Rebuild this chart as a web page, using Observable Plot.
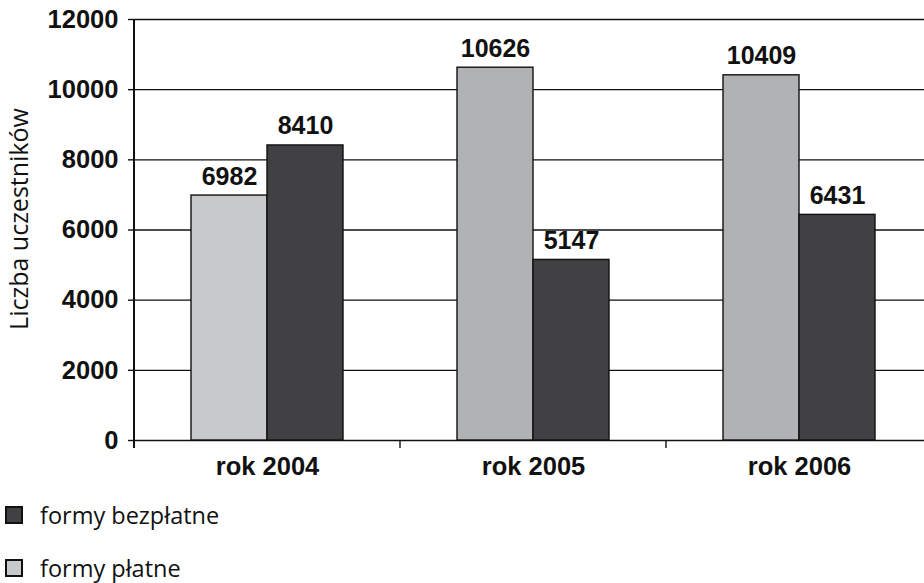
<!DOCTYPE html>
<html>
<head>
<meta charset="utf-8">
<script src="https://cdn.jsdelivr.net/npm/d3@7"></script>
<script src="https://cdn.jsdelivr.net/npm/@observablehq/plot@0.6"></script>
<style>
  html, body { margin: 0; padding: 0; background: #fff; overflow: hidden; }
  #chart { position: relative; width: 924px; height: 583px; }
  #chart svg { position: absolute; left: 0; top: 0; overflow: visible; }
  .legend { position: absolute; left: 0; top: 490px; font-family: "Open Sans", "Noto Sans", sans-serif; font-size: 23.5px; color: #111; }
  .item { position: absolute; left: 5px; white-space: nowrap; display: flex; align-items: center; }
  .sw { width: 14px; height: 14px; border: 2px solid #111; margin-right: 17px; }
  .ylab { position: absolute; font-family: "Open Sans", "Noto Sans", sans-serif; font-size: 25px; color: #111; transform: rotate(-90deg); transform-origin: center; white-space: nowrap; }
</style>
</head>
<body>
<div id="chart"></div>
<script>
const years = ["rok 2004", "rok 2005", "rok 2006"];
const seriesNames = ["formy płatne", "formy bezpłatne"];
const platne = [6982, 10626, 10409];
const bezplatne = [8410, 5147, 6431];
const yTicks = [0, 2000, 4000, 6000, 8000, 10000, 12000];
const yLabel = "Liczba uczestników";

const data = [];
years.forEach((y, i) => {
  data.push({year: y, series: seriesNames[0], value: platne[i]});
  data.push({year: y, series: seriesNames[1], value: bezplatne[i]});
});

const fillOf = d => d.series === seriesNames[1] ? "#414143" : (d.year === years[0] ? "#c8c9cb" : "#b1b2b4");

const plot = Plot.plot({
  width: 924,
  height: 490,
  marginLeft: 134,
  marginRight: -8,
  marginTop: 19,
  marginBottom: 50,
  style: {fontFamily: "'Liberation Sans', Arial, sans-serif", background: "transparent", overflow: "visible"},
  fx: {domain: years, paddingInner: 0, paddingOuter: 0, axis: null, label: null},
  x: {domain: seriesNames, paddingInner: 0, paddingOuter: 0.75, axis: null, label: null},
  y: {domain: [0, 12000], ticks: yTicks, label: null},
  marks: [
    Plot.ruleY(yTicks, {stroke: "#111", strokeWidth: 1.4}),
    Plot.barY(data, {fx: "year", x: "series", y: "value", fill: fillOf, stroke: "#111", strokeWidth: 1.4}),
    Plot.text(data, {fx: "year", x: "series", y: "value", text: d => String(d.value), dy: -19, fontSize: 25, fontWeight: "bold", fill: "#111"}),
    Plot.text(years, {fx: d => d, text: d => d, frameAnchor: "bottom", dy: 34, fontSize: 25.5, fontWeight: "bold", fill: "#111"}),
    Plot.axisY({ticks: yTicks, tickSize: 6, tickPadding: 10, fontSize: 25.5, fontWeight: "bold", tickFormat: d => String(d), label: null, stroke: "#111", strokeWidth: 1.4, fill: "#111"})
  ]
});

const chart = document.getElementById("chart");
chart.appendChild(plot);

// axis line and category boundary ticks, from the plot's own scales
const fx = plot.scale("fx");
const y = plot.scale("y");
const svg = d3.select(plot);
const y0 = y.apply(0), yTop = y.apply(12000);
const fxStart = fx.apply(years[0]);
svg.append("line").attr("x1", fxStart).attr("x2", fxStart).attr("y1", yTop).attr("y2", y0 + 8)
  .attr("stroke", "#111").attr("stroke-width", 2);
years.slice(1).forEach(yr => {
  const xx = fx.apply(yr);
  svg.append("line").attr("x1", xx).attr("x2", xx).attr("y1", y0).attr("y2", y0 + 8)
    .attr("stroke", "#111").attr("stroke-width", 1.4);
});

// y label
const yl = document.createElement("div");
yl.className = "ylab";
yl.textContent = yLabel;
chart.appendChild(yl);
const w = yl.offsetWidth, h = yl.offsetHeight;
yl.style.left = (18 - w / 2) + "px";
yl.style.top = (219 - h / 2) + "px";

// legend (bezpłatne first, as in the reference)
const legend = document.createElement("div");
legend.className = "legend";
const legendOrder = [seriesNames[1], seriesNames[0]];
const legendFill = [ "#414143", "#c8c9cb" ];
legendOrder.forEach((name, i) => {
  const it = document.createElement("div");
  it.className = "item";
  it.style.top = (i === 0 ? 9 : 62) + "px";
  const sw = document.createElement("span");
  sw.className = "sw";
  sw.style.background = legendFill[i];
  const tx = document.createElement("span");
  tx.textContent = name;
  it.appendChild(sw); it.appendChild(tx);
  legend.appendChild(it);
});
chart.appendChild(legend);
</script>
</body>
</html>
